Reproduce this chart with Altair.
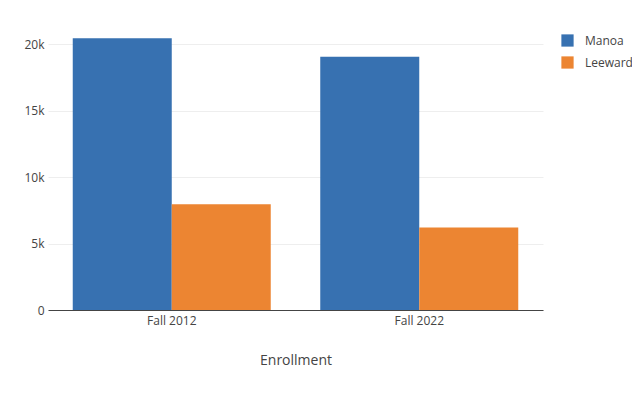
import altair as alt
import pandas as pd

terms = ["Fall 2012", "Fall 2022"]
campuses = ["Manoa", "Leeward"]
manoa = [20430, 19050]
leeward = [7960, 6200]
colors = ["#3771b1", "#ec8532"]

rows = []
for i, t in enumerate(terms):
    rows.append({"term": t, "campus": "Manoa", "value": manoa[i]})
    rows.append({"term": t, "campus": "Leeward", "value": leeward[i]})
df = pd.DataFrame(rows)

font = "Open Sans"

chart = alt.Chart(df).mark_bar(opacity=1).encode(
    x=alt.X("term:N", sort=terms, title="Enrollment",
            scale=alt.Scale(paddingInner=0.2, paddingOuter=0.1),
            axis=alt.Axis(labelAngle=0, ticks=False, labelPadding=5,
                          domainColor="#444", domainWidth=1,
                          titlePadding=27, titleFontSize=14, titleFontWeight="normal",
                          titleColor="#444", labelColor="#444", labelFontSize=12,
                          grid=False)),
    xOffset=alt.XOffset("campus:N", sort=campuses, scale=alt.Scale(paddingInner=0, paddingOuter=0)),
    y=alt.Y("value:Q", title=None,
            scale=alt.Scale(domain=[0, 21430], nice=False, zero=True),
            axis=alt.Axis(values=[0, 5000, 10000, 15000, 20000],
                          labelExpr="datum.value == 0 ? '0' : format(datum.value, '~s')",
                          ticks=False, domain=False, labelPadding=4,
                          gridColor="#eeeeee", gridWidth=1,
                          labelColor="#444", labelFontSize=12)),
    color=alt.Color("campus:N", sort=campuses,
                    scale=alt.Scale(domain=campuses, range=colors),
                    legend=alt.Legend(title=None, orient="none", legendX=513, legendY=9,
                                      symbolType="square", symbolSize=150,
                                      symbolStrokeWidth=0, symbolOpacity=1,
                                      labelFontSize=12, labelColor="#444",
                                      labelOffset=11, rowPadding=9)),
).properties(
    width=495, height=285,
    autosize=alt.AutoSizeParams(type="none"),
    padding={"left": 40, "top": 17, "right": 89, "bottom": 82},
).configure(font=font).configure_view(stroke=None)

chart.save("out.html", embed_options={"renderer": "svg", "actions": False})
